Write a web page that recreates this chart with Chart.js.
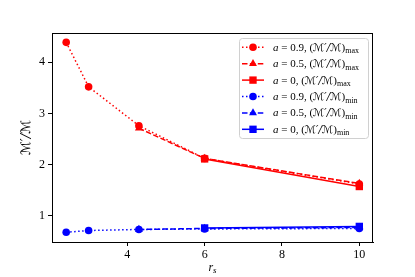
<!DOCTYPE html>
<html><head><meta charset="utf-8">
<script src="https://cdn.jsdelivr.net/npm/chart.js@4"></script>
<style>html,body{margin:0;padding:0;background:#fff;}#wrap{width:415px;height:277px;position:relative;}</style>
</head><body><div id="wrap"><canvas id="c" width="415" height="277"></canvas></div>
<script>
const rs09 = [2.42, 3.0, 4.3, 6, 10];
const rs05 = [4.3, 6, 10];
const rs0 = [6, 10];
const max09 = [4.39, 3.52, 2.76, 2.12, 1.62];
const max05 = [2.71, 2.12, 1.63];
const max0 = [2.11, 1.57];
const min09 = [0.675, 0.71, 0.73, 0.74, 0.75];
const min05 = [0.73, 0.75, 0.77];
const min0 = [0.76, 0.79];
const xTicks = [4, 6, 8, 10];
const yTicks = [1, 2, 3, 4];
const labels = [
  ['0.9','max'],['0.5','max'],['0','max'],['0.9','min'],['0.5','min'],['0','min']
];

const RED = '#ff0000', BLUE = '#0000ff';
const DOT = [1.5, 2.5], DASH = [5.5, 2.4], SOLID = [];
function pts(xs, ys){ return xs.map((x,i)=>({x:x, y:ys[i]})); }
function ds(xs, ys, color, dash, style, r){
  return {data: pts(xs, ys), borderColor: color, backgroundColor: color, borderDash: dash,
    borderWidth: 1.5, showLine: true, pointStyle: style, pointRadius: r, pointHoverRadius: r,
    pointBorderWidth: 0, fill: false, tension: 0};
}
const datasets = [
  ds(rs09, max09, RED, DOT, 'circle', 3.8),
  ds(rs05, max05, RED, DASH, 'triangle', 4.6),
  ds(rs0, max0, RED, SOLID, 'rect', 5.2),
  ds(rs09, min09, BLUE, DOT, 'circle', 3.8),
  ds(rs05, min05, BLUE, DASH, 'triangle', 4.6),
  ds(rs0, min0, BLUE, SOLID, 'rect', 5.2)
];

const SERIF = '"Liberation Serif", "DejaVu Serif", serif';
const SCRIPT = '"DejaVu Serif", "DejaVu Sans", serif';

const deco = {
  id: 'deco',
  afterDraw(chart){
    const ctx = chart.ctx, a = chart.chartArea;
    ctx.save();
    // top and right spines
    ctx.strokeStyle = '#000'; ctx.lineWidth = 1;
    ctx.beginPath();
    ctx.moveTo(a.left, a.top + 0.5); ctx.lineTo(a.right, a.top + 0.5);
    ctx.moveTo(a.right - 0.5, a.top); ctx.lineTo(a.right - 0.5, a.bottom);
    ctx.stroke();
    // axis titles
    ctx.fillStyle = '#000';
    ctx.textBaseline = 'middle';
    ctx.font = 'italic 12px ' + SERIF;
    ctx.textAlign = 'left';
    const rw = ctx.measureText('r').width;
    ctx.font = 'italic 9px ' + SERIF;
    const sw = ctx.measureText('s').width;
    let x0 = (a.left + a.right)/2 - (rw + sw)/2;
    ctx.font = 'italic 12px ' + SERIF;
    ctx.fillText('r', x0, 268);
    ctx.font = 'italic 9px ' + SERIF;
    ctx.fillText('s', x0 + rw, 271);
    ctx.save();
    ctx.translate(27, (a.top + a.bottom)/2);
    ctx.rotate(-Math.PI/2);
    ctx.textAlign = 'center';
    ctx.font = 'italic 13px ' + SCRIPT;
    ctx.fillText('ℳ′/ℳ', 0, 0);
    ctx.restore();
    // legend
    const lx = 239, ly = 38, lw = 129, lh = 100;
    ctx.beginPath();
    if (ctx.roundRect) ctx.roundRect(lx + 0.5, ly + 0.5, lw, lh, 3); else ctx.rect(lx + 0.5, ly + 0.5, lw, lh);
    ctx.fillStyle = 'rgba(255,255,255,0.85)'; ctx.fill();
    ctx.strokeStyle = '#d0d0d0'; ctx.lineWidth = 1; ctx.stroke();
    for (let i = 0; i < 6; i++){
      const d = chart.data.datasets[i];
      const y = 47.3 + i*16.4;
      ctx.strokeStyle = d.borderColor; ctx.lineWidth = 1.5; ctx.setLineDash(d.borderDash);
      ctx.beginPath(); ctx.moveTo(242, y); ctx.lineTo(264, y); ctx.stroke();
      ctx.setLineDash([]);
      ctx.fillStyle = d.backgroundColor;
      ctx.beginPath();
      const r = d.pointRadius;
      if (d.pointStyle === 'circle'){ ctx.arc(253, y, r, 0, Math.PI*2); }
      else if (d.pointStyle === 'rect'){ const s = r*Math.SQRT1_2; ctx.rect(253 - s, y - s, 2*s, 2*s); }
      else { ctx.moveTo(253, y - r); ctx.lineTo(253 + r*0.866, y + r*0.5); ctx.lineTo(253 - r*0.866, y + r*0.5); ctx.closePath(); }
      ctx.fill();
      // text
      ctx.fillStyle = '#000'; ctx.textAlign = 'left'; ctx.textBaseline = 'alphabetic';
      let tx = 273; const by = y + 3.5;
      const segs = [
        ['italic 11px ' + SERIF, 'a', 0],
        ['11px ' + SERIF, ' = ' + labels[i][0] + ', (', 0],
        ['italic 10.5px ' + SCRIPT, 'ℳ′/ℳ', 0],
        ['11px ' + SERIF, ')', 0],
        ['8px ' + SERIF, labels[i][1], 2.5]
      ];
      for (const s of segs){ ctx.font = s[0]; ctx.fillText(s[1], tx, by + s[2]); tx += ctx.measureText(s[1]).width; }
    }
    ctx.restore();
  }
};

new Chart(document.getElementById('c'), {
  type: 'scatter',
  data: {datasets},
  options: {
    responsive: false, animation: false, devicePixelRatio: 1,
    layout: {padding: {left: 0, top: 33, right: 42, bottom: 0}},
    plugins: {legend: {display: false}, tooltip: {enabled: false}},
    scales: {
      x: {type: 'linear', min: 2.053, max: 10.354,
        afterFit(s){ s.height = 35; },
        afterBuildTicks(s){ s.ticks = xTicks.map(v=>({value: v})); },
        grid: {drawOnChartArea: false, drawTicks: true, tickLength: 4, tickColor: '#000'},
        border: {display: true, color: '#000', width: 1},
        ticks: {color: '#000', font: {family: SERIF, size: 12}, padding: 2, maxRotation: 0}
      },
      y: {type: 'linear', min: 0.485, max: 4.573,
        afterFit(s){ s.width = 52; },
        afterBuildTicks(s){ s.ticks = yTicks.map(v=>({value: v})); },
        grid: {drawOnChartArea: false, drawTicks: true, tickLength: 4, tickColor: '#000'},
        border: {display: true, color: '#000', width: 1},
        ticks: {color: '#000', font: {family: SERIF, size: 12}, padding: 3}
      }
    }
  },
  plugins: [deco]
});
</script></body></html>
